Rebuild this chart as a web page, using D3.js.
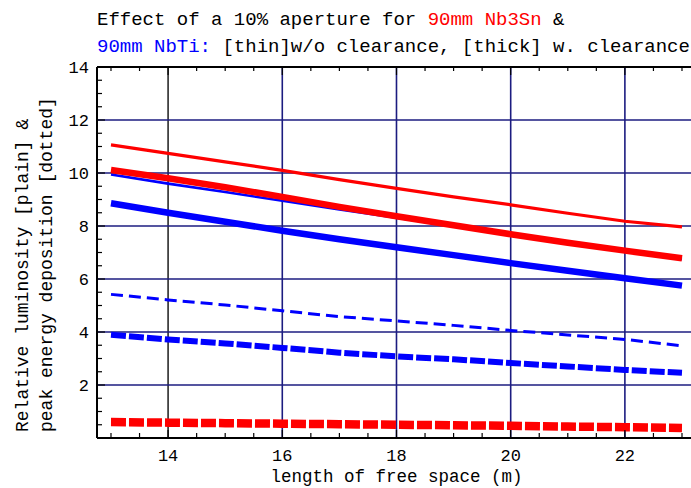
<!DOCTYPE html>
<html>
<head>
<meta charset="utf-8">
<script src="https://cdn.jsdelivr.net/npm/d3@7"></script>
<style>
  body { margin: 0; background: #fff; }
  svg { display: block; }
  text { font-family: "Liberation Mono", "DejaVu Sans Mono", monospace; fill: #000; }
</style>
</head>
<body>
<div id="chart"></div>
<script>
var WIDTH = 691;
var HEIGHT = 488;

// free space length (m)
const freeSpace = [13, 14, 15, 16, 17, 18, 19, 20, 21, 22, 23];

// relative luminosity
const nb3snThin = [11.06, 10.74, 10.42, 10.10, 9.75, 9.42, 9.10, 8.80, 8.48, 8.18, 7.97];
const nb3snThick = [10.11, 9.80, 9.46, 9.10, 8.72, 8.37, 8.03, 7.69, 7.37, 7.07, 6.78];
const nbtiThin = [9.94, 9.60, 9.28, 8.95, 8.62, 8.31, 7.99, 7.66, 7.34, 7.04, 6.75];
const nbtiThick = [8.86, 8.50, 8.16, 7.82, 7.50, 7.20, 6.90, 6.60, 6.31, 6.03, 5.75];

// peak energy deposition
const nbtiEnergyThin = [5.42, 5.21, 5.02, 4.80, 4.58, 4.42, 4.25, 4.06, 3.89, 3.72, 3.48];
const nbtiEnergyThick = [3.90, 3.72, 3.57, 3.40, 3.22, 3.08, 2.97, 2.83, 2.70, 2.57, 2.46];
const nb3snEnergyThick = [0.60, 0.58, 0.56, 0.54, 0.52, 0.50, 0.48, 0.46, 0.43, 0.41, 0.38];

const xTicks = [14, 16, 18, 20, 22];
const yTicks = [2, 4, 6, 8, 10, 12, 14];

var RED = "#ff0000";
var BLUE = "#0000ff";
var GRID = "#1c1c80";

var margin = { top: 67, left: 97, bottom: 438 };

var svg = d3.select("#chart").append("svg")
	.attr("width", WIDTH).attr("height", HEIGHT);

// scales (the right frame falls outside the picture)
var x = d3.scaleLinear().domain([12.755, 23.3]).range([margin.left, margin.left + 10.545 * 57.1]);
var y = d3.scaleLinear().domain([0, 14]).range([margin.bottom, margin.top]);

// grid lines
svg.append("g").selectAll("line.vg")
	.data(xTicks).enter().append("line")
	.attr("x1", d => x(d)).attr("x2", d => x(d))
	.attr("y1", y(0)).attr("y2", y(14))
	.attr("stroke", d => d === 14 ? "#2a2a2a" : GRID)
	.attr("stroke-width", 1.6);

svg.append("g").selectAll("line.hg")
	.data(yTicks.filter(d => d < 14)).enter().append("line")
	.attr("x1", x.range()[0]).attr("x2", x.range()[1])
	.attr("y1", d => y(d)).attr("y2", d => y(d))
	.attr("stroke", GRID)
	.attr("stroke-width", 1.6);

// series
var series = [
	{ values: nbtiThin, color: BLUE, width: 2.6, dash: null },
	{ values: nb3snThin, color: RED, width: 3.2, dash: null },
	{ values: nbtiThick, color: BLUE, width: 6.5, dash: null },
	{ values: nb3snThick, color: RED, width: 6.5, dash: null },
	{ values: nbtiEnergyThin, color: BLUE, width: 3, dash: "12,6" },
	{ values: nbtiEnergyThick, color: BLUE, width: 6, dash: "15,3" },
	{ values: nb3snEnergyThick, color: RED, width: 8.5, dash: "15,3" }
];

var line = d3.line()
	.x((d, i) => x(freeSpace[i]))
	.y(d => y(d));

svg.append("g").selectAll("path")
	.data(series).enter().append("path")
	.attr("d", d => line(d.values))
	.attr("fill", "none")
	.attr("stroke", d => d.color)
	.attr("stroke-width", d => d.width)
	.attr("stroke-dasharray", d => d.dash)
	.attr("stroke-linecap", "butt");

// frame with inward ticks
var minorX = d3.range(13, 23.01, 0.5);
var minorY = d3.range(0.5, 14, 0.5);

var frame = svg.append("g").attr("stroke", "#000");

frame.append("line")
	.attr("x1", x.range()[0]).attr("x2", x.range()[1])
	.attr("y1", y(0)).attr("y2", y(0)).attr("stroke-width", 2);
frame.append("line")
	.attr("x1", x.range()[0]).attr("x2", x.range()[1])
	.attr("y1", y(14)).attr("y2", y(14)).attr("stroke-width", 2);
frame.append("line")
	.attr("x1", x.range()[0]).attr("x2", x.range()[0])
	.attr("y1", y(0)).attr("y2", y(14)).attr("stroke-width", 2);

frame.selectAll("line.bt").data(minorX).enter().append("line")
	.attr("x1", d => x(d)).attr("x2", d => x(d))
	.attr("y1", y(0)).attr("y2", d => y(0) - (d % 2 === 0 ? 8 : 5))
	.attr("stroke-width", 1.2);
frame.selectAll("line.tt").data(minorX).enter().append("line")
	.attr("x1", d => x(d)).attr("x2", d => x(d))
	.attr("y1", y(14)).attr("y2", d => y(14) + (d % 2 === 0 ? 8 : 4))
	.attr("stroke-width", 1.2);
frame.selectAll("line.lt").data(minorY).enter().append("line")
	.attr("x1", x.range()[0]).attr("x2", d => x.range()[0] + (d % 2 === 0 ? 8 : 5))
	.attr("y1", d => y(d)).attr("y2", d => y(d))
	.attr("stroke-width", 1.2);

// tick labels
svg.append("g").selectAll("text")
	.data(xTicks).enter().append("text")
	.attr("x", d => x(d)).attr("y", 461)
	.attr("text-anchor", "middle")
	.style("font-size", "17px")
	.text(d => d);

svg.append("g").selectAll("text")
	.data(yTicks).enter().append("text")
	.attr("x", 89).attr("y", d => y(d) + 6)
	.attr("text-anchor", "end")
	.style("font-size", "17px")
	.text(d => d);

// axis titles
svg.append("text")
	.attr("x", x(18)).attr("y", 482)
	.attr("text-anchor", "middle")
	.style("font-size", "17.5px")
	.text("length of free space (m)");

var yTitle = svg.append("text")
	.attr("transform", "translate(28,432) rotate(-90)")
	.style("font-size", "18px");
yTitle.append("tspan").attr("x", 0).attr("y", 0).text("Relative luminosity [plain] &");
yTitle.append("tspan").attr("x", 0).attr("y", 24).text("peak energy deposition [dotted]");

// title
var title = svg.append("text")
	.attr("x", 97).attr("y", 25)
	.style("font-size", "19px")
	.style("white-space", "pre");
title.append("tspan").text("Effect of a 10% aperture for ");
title.append("tspan").style("fill", RED).text("90mm Nb3Sn");
title.append("tspan").text(" &");

var title2 = svg.append("text")
	.attr("x", 97).attr("y", 52)
	.style("font-size", "19px")
	.style("white-space", "pre");
title2.append("tspan").style("fill", BLUE).text("90mm NbTi:");
title2.append("tspan").text(" [thin]w/o clearance, [thick] w. clearance");
</script>
</body>
</html>
